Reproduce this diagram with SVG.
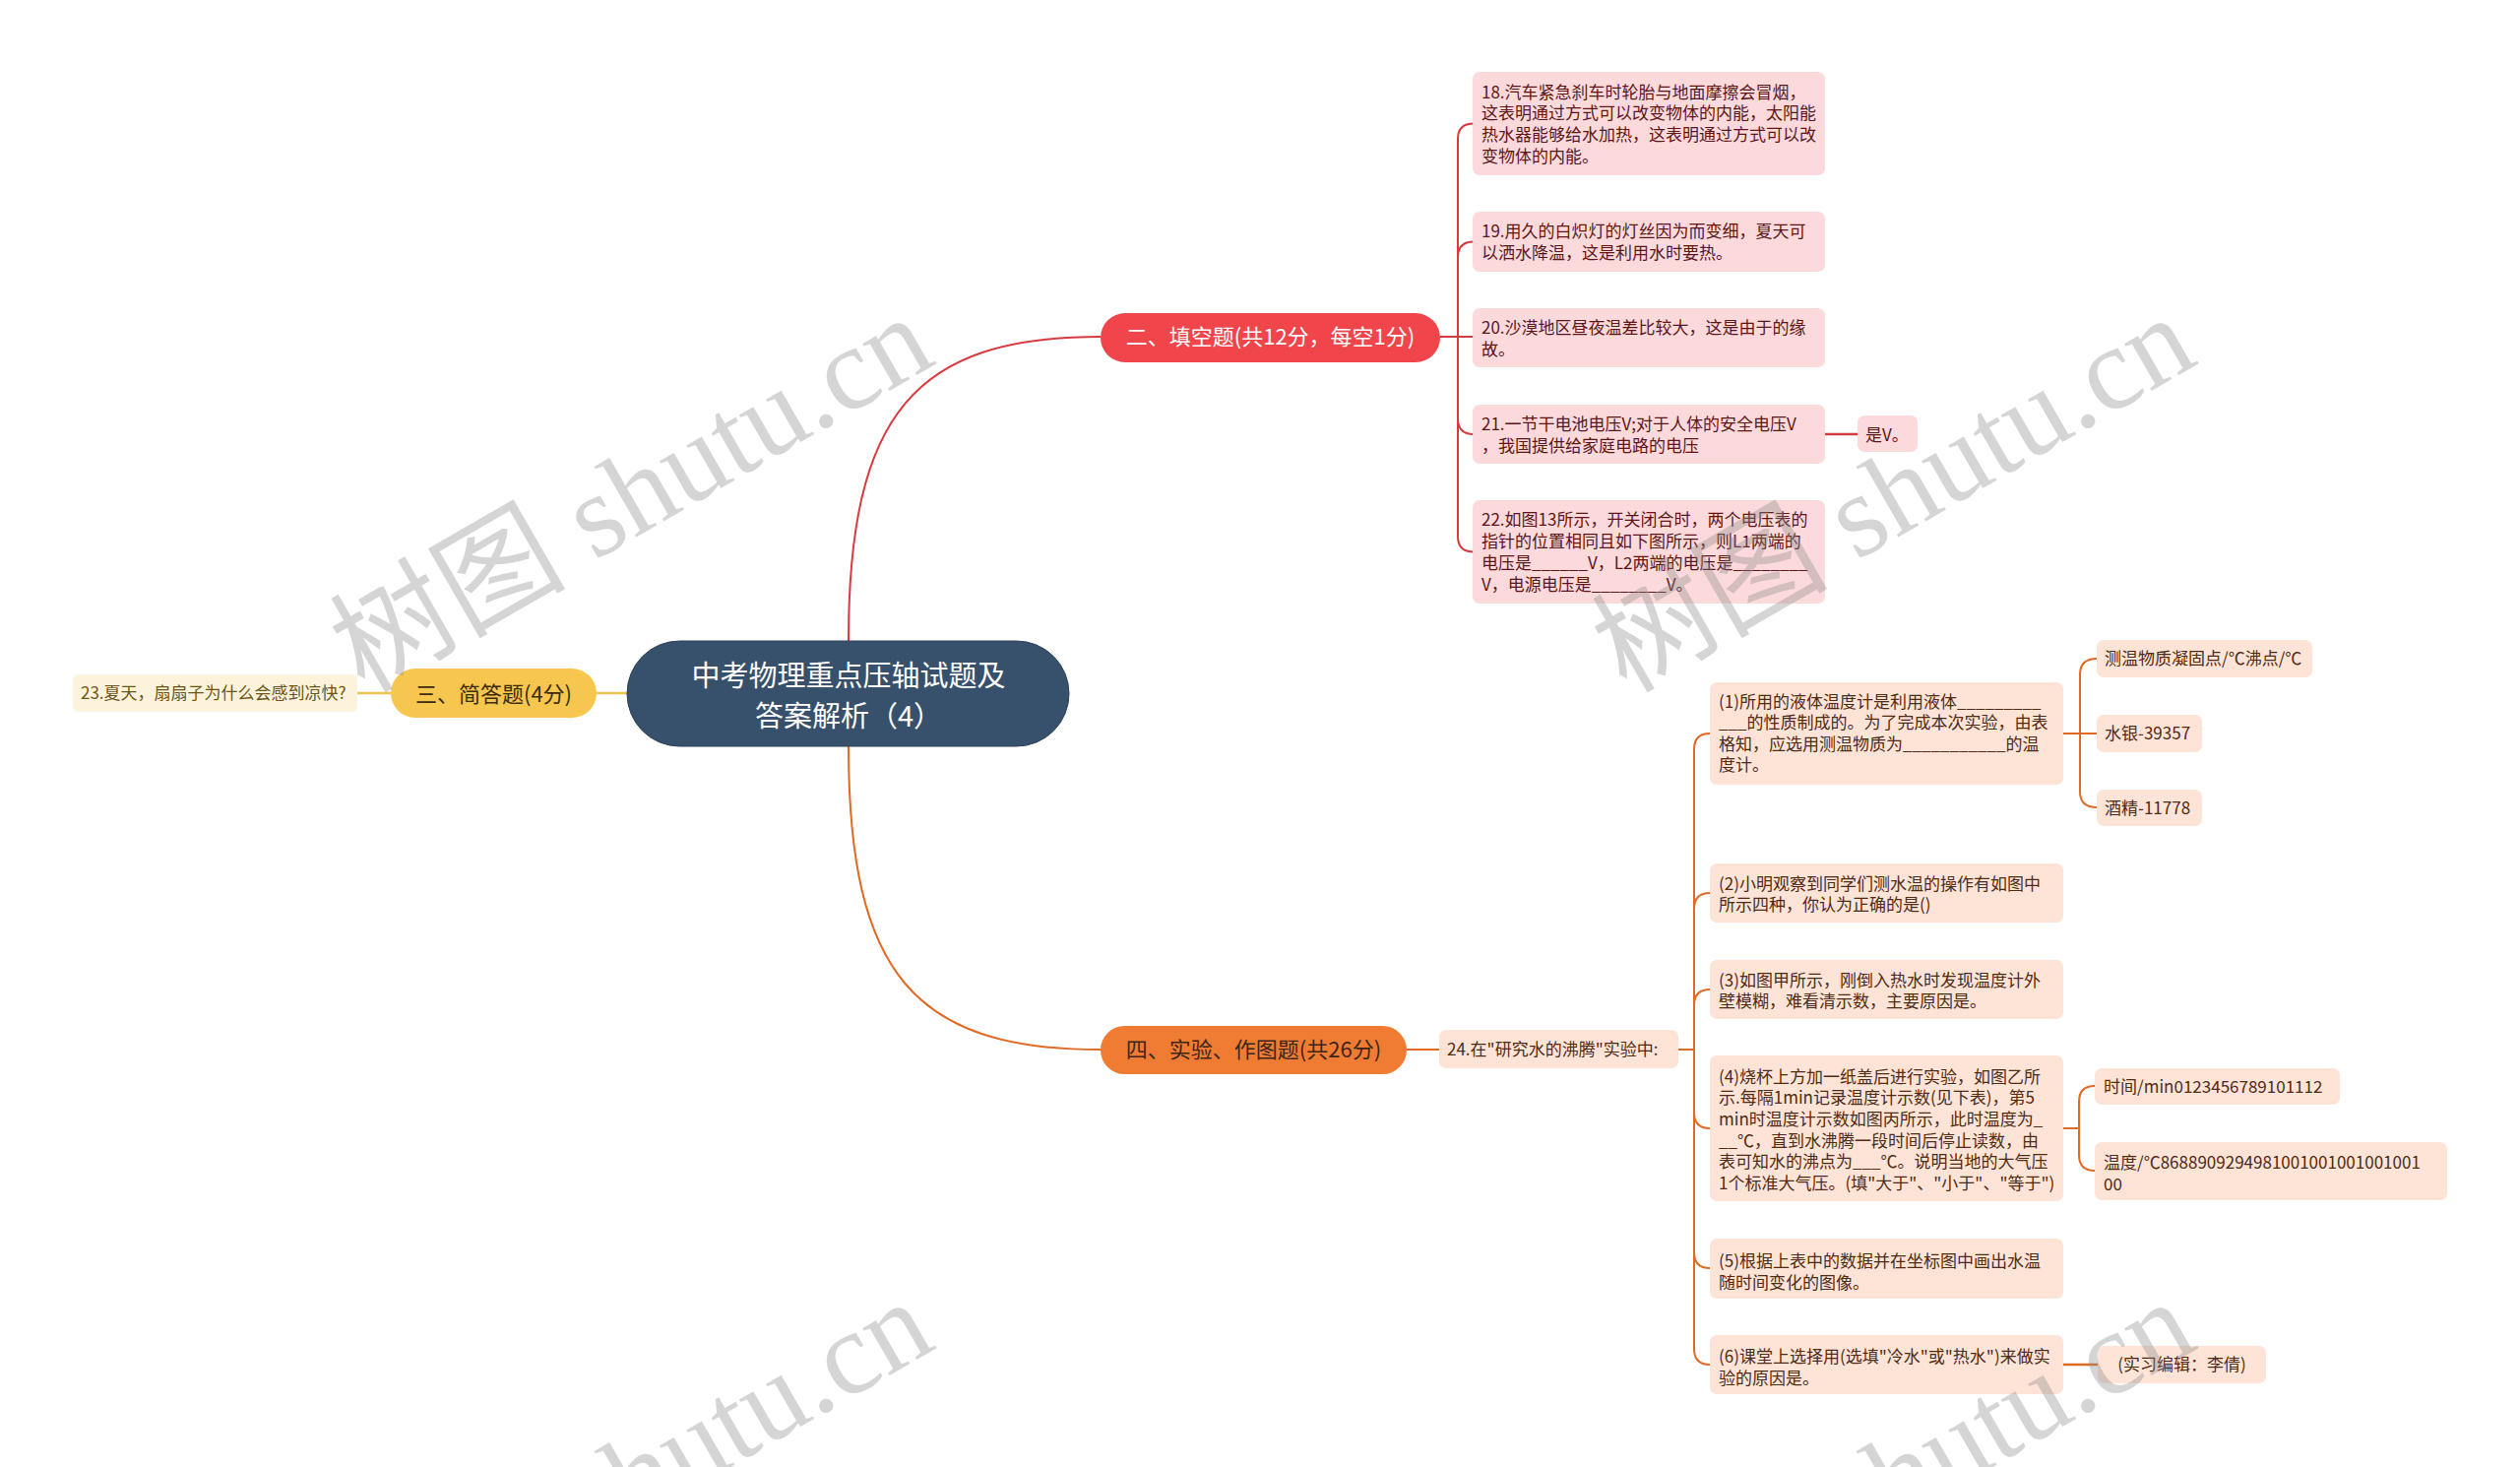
<svg xmlns="http://www.w3.org/2000/svg" width="2560" height="1490" viewBox="0 0 2560 1490">
<style>
.t{font-family:"Noto Sans CJK SC","Noto Sans",sans-serif;font-size:17px}
.rb{fill:#fcdadb}
.rt{fill:#5e1518}
.ob{fill:#fde4d6}
.ot{fill:#4f2a14}
.lr{fill:none;stroke:#d93a3f;stroke-width:2}
.lo{fill:none;stroke:#e06a24;stroke-width:2}
.ly{fill:none;stroke:#f0c44f;stroke-width:2.5}
.wm{font-family:"Liberation Serif","Noto Sans CJK SC",serif;font-size:120px;fill:#888;opacity:0.35}
.mid{text-anchor:middle}
</style>
<rect width="2560" height="1490" fill="#ffffff"/>
<g id="connectors">
<path class="lr" d="M862,651 C862,420 930,342 1118,342"/>
<path class="lr" d="M1463,342 H1481 V141 Q1481,125.5 1497,125.5"/>
<path class="lr" d="M1481,342 V261 Q1481,245.5 1497,245.5"/>
<path class="lr" d="M1463,342 H1497"/>
<path class="lr" d="M1481,342 V425 Q1481,441 1497,441"/>
<path class="lr" d="M1481,342 V545 Q1481,560.5 1497,560.5"/>
<path class="lr" style="stroke-width:2.5" d="M1854,441 H1887"/>
<path class="lo" d="M862,758 C862,990 930,1066 1118,1066"/>
<path class="lo" d="M1429,1066 H1462"/>
<path class="lo" d="M1705,1066 H1721 V761 Q1721,745 1737,745"/>
<path class="lo" d="M1721,1066 V923 Q1721,907 1737,907"/>
<path class="lo" d="M1721,1066 V1021 Q1721,1005 1737,1005"/>
<path class="lo" d="M1721,1066 V1130 Q1721,1146 1737,1146"/>
<path class="lo" d="M1721,1066 V1272 Q1721,1288 1737,1288"/>
<path class="lo" d="M1721,1066 V1370 Q1721,1386 1737,1386"/>
<path class="lo" d="M2096,745 H2130"/>
<path class="lo" d="M2113,745 V685 Q2113,669 2130,669"/>
<path class="lo" d="M2113,745 V804 Q2113,820 2130,820"/>
<path class="lo" d="M2096,1146 H2112 V1119 Q2112,1103 2128,1103"/>
<path class="lo" d="M2112,1146 V1173 Q2112,1189 2128,1189"/>
<path class="lo" style="stroke-width:2.5" d="M2096,1386 H2131"/>
<path class="ly" d="M637,704 H606"/>
<path class="ly" d="M397,704 H363"/>
</g>
<g id="root">
<rect x="637" y="651" width="449" height="107" rx="53.5" fill="#37506c" stroke="#2c4259" stroke-width="1"/>
<text class="t mid" x="862" y="696.5" style="font-size:29px" fill="#ffffff">中考物理重点压轴试题及</text>
<text class="t mid" x="862" y="737.5" style="font-size:29px" fill="#ffffff">答案解析（4）</text>
</g>
<g id="n-fill">
<rect x="1118" y="318" width="345" height="50" rx="25" fill="#f0454b"/>
<text class="t mid" x="1290.5" y="350" style="font-size:22px" fill="#ffffff">二、填空题(共12分，每空1分)</text>
</g>
<g id="n18">
<rect class="rb" x="1496" y="73" width="358" height="105" rx="7"/>
<text class="t rt" x="1505" y="99.5">18.汽车紧急刹车时轮胎与地面摩擦会冒烟，</text>
<text class="t rt" x="1505" y="121">这表明通过方式可以改变物体的内能，太阳能</text>
<text class="t rt" x="1505" y="143">热水器能够给水加热，这表明通过方式可以改</text>
<text class="t rt" x="1505" y="165">变物体的内能。</text>
</g>
<g id="n19">
<rect class="rb" x="1496" y="215" width="358" height="61" rx="7"/>
<text class="t rt" x="1505" y="240.5">19.用久的白炽灯的灯丝因为而变细，夏天可</text>
<text class="t rt" x="1505" y="262.5">以洒水降温，这是利用水时要热。</text>
</g>
<g id="n20">
<rect class="rb" x="1496" y="313" width="358" height="60" rx="7"/>
<text class="t rt" x="1505" y="338.5">20.沙漠地区昼夜温差比较大，这是由于的缘</text>
<text class="t rt" x="1505" y="360.5">故。</text>
</g>
<g id="n21">
<rect class="rb" x="1496" y="411" width="358" height="60" rx="7"/>
<text class="t rt" x="1505" y="436.5">21.一节干电池电压V;对于人体的安全电压V</text>
<text class="t rt" x="1505" y="458.5">，我国提供给家庭电路的电压</text>
</g>
<g id="n21a">
<rect class="rb" x="1887" y="422" width="61" height="37" rx="7"/>
<text class="t rt" x="1895" y="447.5">是V。</text>
</g>
<g id="n22">
<rect class="rb" x="1496" y="508" width="358" height="105" rx="7"/>
<text class="t rt" x="1505" y="533.5">22.如图13所示，开关闭合时，两个电压表的</text>
<text class="t rt" x="1505" y="555.5">指针的位置相同且如下图所示，则L1两端的</text>
<text class="t rt" x="1505" y="577.5">电压是______V，L2两端的电压是________</text>
<text class="t rt" x="1505" y="599.5">V，电源电压是________V。</text>
</g>
<g id="n-short">
<rect x="397" y="679" width="209" height="50" rx="25" fill="#f7c64e"/>
<text class="t mid" x="501.5" y="712.5" style="font-size:22px" fill="#3a2c0b">三、简答题(4分)</text>
</g>
<g id="n23">
<rect x="74" y="685" width="289" height="38" rx="6" fill="#fdf3da"/>
<text class="t" x="82" y="710" fill="#6b5517">23.夏天，扇扇子为什么会感到凉快?</text>
</g>
<g id="n-exp">
<rect x="1118" y="1042" width="311" height="49" rx="24.5" fill="#f07c34"/>
<text class="t mid" x="1273.5" y="1074" style="font-size:22px" fill="#3d2618">四、实验、作图题(共26分)</text>
</g>
<g id="n24">
<rect class="ob" x="1462" y="1046" width="243" height="39" rx="7"/>
<text class="t ot" x="1470" y="1072">24.在"研究水的沸腾"实验中:</text>
</g>
<g id="q1">
<rect class="ob" x="1737" y="693" width="359" height="104" rx="7"/>
<text class="t ot" x="1746" y="718.5">(1)所用的液体温度计是利用液体_________</text>
<text class="t ot" x="1746" y="740">___的性质制成的。为了完成本次实验，由表</text>
<text class="t ot" x="1746" y="761.5">格知，应选用测温物质为___________的温</text>
<text class="t ot" x="1746" y="783">度计。</text>
</g>
<g id="q1a">
<rect class="ob" x="2130" y="650" width="219" height="38" rx="7"/>
<text class="t ot" x="2138" y="675">测温物质凝固点/℃沸点/℃</text>
</g>
<g id="q1b">
<rect class="ob" x="2130" y="726" width="107" height="38" rx="7"/>
<text class="t ot" x="2138" y="751">水银-39357</text>
</g>
<g id="q1c">
<rect class="ob" x="2130" y="802" width="107" height="37" rx="7"/>
<text class="t ot" x="2138" y="826.5">酒精-11778</text>
</g>
<g id="q2">
<rect class="ob" x="1737" y="877" width="359" height="60" rx="7"/>
<text class="t ot" x="1746" y="903.5">(2)小明观察到同学们测水温的操作有如图中</text>
<text class="t ot" x="1746" y="925">所示四种，你认为正确的是()</text>
</g>
<g id="q3">
<rect class="ob" x="1737" y="975" width="359" height="60" rx="7"/>
<text class="t ot" x="1746" y="1001.5">(3)如图甲所示，刚倒入热水时发现温度计外</text>
<text class="t ot" x="1746" y="1023">壁模糊，难看清示数，主要原因是。</text>
</g>
<g id="q4">
<rect class="ob" x="1737" y="1072" width="359" height="148" rx="7"/>
<text class="t ot" x="1746" y="1099.5">(4)烧杯上方加一纸盖后进行实验，如图乙所</text>
<text class="t ot" x="1746" y="1121">示.每隔1min记录温度计示数(见下表)，第5</text>
<text class="t ot" x="1746" y="1143">min时温度计示数如图丙所示，此时温度为_</text>
<text class="t ot" x="1746" y="1164.5">__℃，直到水沸腾一段时间后停止读数，由</text>
<text class="t ot" x="1746" y="1186">表可知水的沸点为___℃。说明当地的大气压</text>
<text class="t ot" x="1746" y="1208">1个标准大气压。(填"大于"、"小于"、"等于")</text>
</g>
<g id="q4a">
<rect class="ob" x="2128" y="1085" width="249" height="37" rx="7"/>
<text class="t ot" x="2137" y="1110">时间/min0123456789101112</text>
</g>
<g id="q4b">
<rect class="ob" x="2128" y="1160" width="358" height="59" rx="7"/>
<text class="t ot" x="2137" y="1186.5">温度/℃8688909294981001001001001001</text>
<text class="t ot" x="2137" y="1208.5">00</text>
</g>
<g id="q5">
<rect class="ob" x="1737" y="1258" width="359" height="61" rx="7"/>
<text class="t ot" x="1746" y="1286.5">(5)根据上表中的数据并在坐标图中画出水温</text>
<text class="t ot" x="1746" y="1308.5">随时间变化的图像。</text>
</g>
<g id="q6">
<rect class="ob" x="1737" y="1356" width="359" height="60" rx="7"/>
<text class="t ot" x="1746" y="1383.5">(6)课堂上选择用(选填"冷水"或"热水")来做实</text>
<text class="t ot" x="1746" y="1405.5">验的原因是。</text>
</g>
<g id="q6a">
<rect class="ob" x="2131" y="1367" width="171" height="38" rx="7"/>
<text class="t ot mid" x="2216.5" y="1392">(实习编辑：李倩)</text>
</g>
<g id="watermarks">
<text class="wm" transform="translate(370,705) rotate(-30)">树图 shutu.cn</text>
<text class="wm" transform="translate(1652,705) rotate(-30)">树图 shutu.cn</text>
<text class="wm" transform="translate(370,1705) rotate(-30)">树图 shutu.cn</text>
<text class="wm" transform="translate(1652,1705) rotate(-30)">树图 shutu.cn</text>
</g>
</svg>
